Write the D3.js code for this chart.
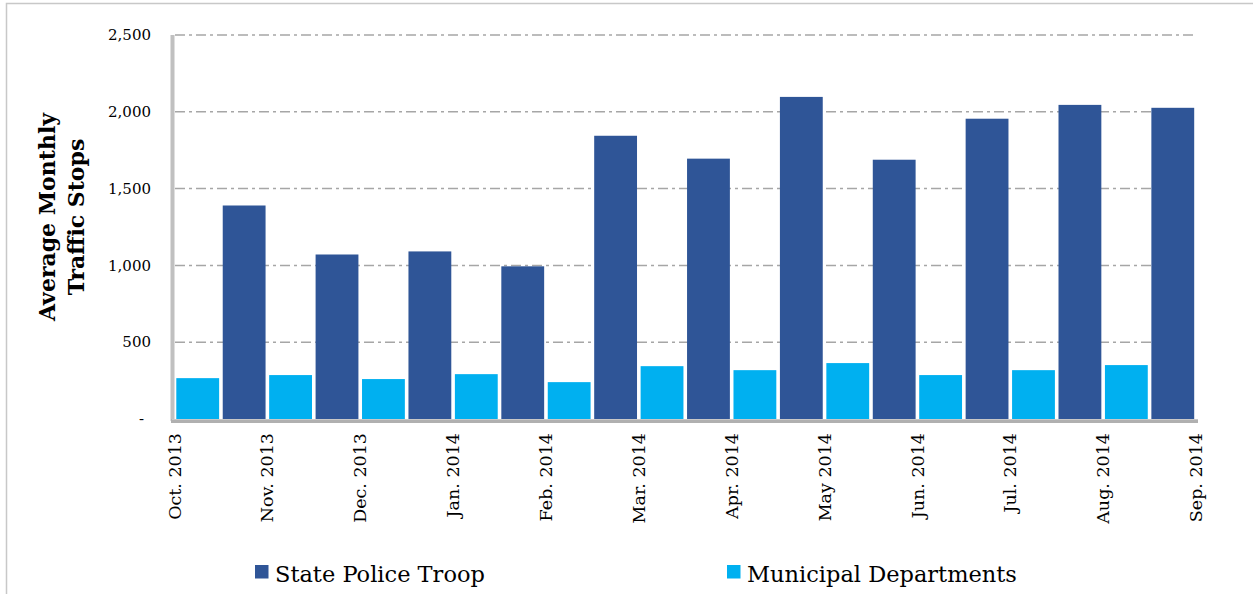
<!DOCTYPE html>
<html><head><meta charset="utf-8">
<script src="https://cdn.jsdelivr.net/npm/d3@7"></script>
<style>html,body{margin:0;padding:0;background:#fff;}svg{display:block;}</style>
</head><body>
<svg id="c" width="1253" height="594"></svg>
<script>
const months = ["Oct. 2013","Nov. 2013","Dec. 2013","Jan. 2014","Feb. 2014","Mar. 2014","Apr. 2014","May 2014","Jun. 2014","Jul. 2014","Aug. 2014","Sep. 2014"];
const statePolice = [1390, 1071, 1091, 994, 1844, 1695, 2097, 1688, 1955, 2045, 2026];
const municipal = [266, 286, 260, 292, 240, 344, 318, 364, 286, 318, 351];
const yTicks = [0, 500, 1000, 1500, 2000, 2500];
const seriesNames = ["State Police Troop", "Municipal Departments"];
const colors = ["#2F5597", "#00B0F0"];

const svg = d3.select("#c");
const serif = "'DejaVu Serif', serif";

// outer frame
svg.append("rect").attr("x",6.5).attr("y",3.5).attr("width",1300).attr("height",700)
  .attr("fill","none").attr("stroke","#c8c8c8").attr("stroke-width",1.5);

const x = d3.scaleLinear().domain([0, months.length-1]).range([174.5, 1196]);
const y = d3.scaleLinear().domain([0, 2500]).range([419, 35]);

// gridlines
svg.append("g").selectAll("line").data(yTicks.filter(d=>d>0)).join("line")
  .attr("x1",175).attr("x2",1196).attr("y1",d=>y(d)).attr("y2",d=>y(d))
  .attr("stroke","#a6a6a6").attr("stroke-width",1.5).attr("stroke-dasharray","10,4,3,4");

// bars
const pad = 1.8;
svg.append("g").selectAll("rect").data(municipal).join("rect")
  .attr("x",(d,i)=>x(i)+pad).attr("width",(d,i)=>x(i+0.5)-x(i)-2*pad)
  .attr("y",d=>y(d)).attr("height",d=>y(0)-y(d)).attr("fill",colors[1]);
svg.append("g").selectAll("rect").data(statePolice).join("rect")
  .attr("x",(d,i)=>x(i+0.5)+pad).attr("width",(d,i)=>x(i+1)-x(i+0.5)-2*pad)
  .attr("y",d=>y(d)).attr("height",d=>y(0)-y(d)).attr("fill",colors[0]);

// axes lines
svg.append("line").attr("x1",172.5).attr("x2",172.5).attr("y1",35).attr("y2",421)
  .attr("stroke","#c0c0c0").attr("stroke-width",4);
svg.append("line").attr("x1",171).attr("x2",1198).attr("y1",421).attr("y2",421)
  .attr("stroke","#b0b0b0").attr("stroke-width",4);
svg.append("line").attr("x1",172).attr("x2",1198).attr("y1",419.5).attr("y2",419.5)
  .attr("stroke","#c8c8c8").attr("stroke-width",1);

// y tick labels
const fmt = d3.format(",");
svg.append("g").selectAll("text").data(yTicks).join("text")
  .attr("x",d=>d===0?144:151).attr("y",d=>y(d)).attr("dy","0.35em")
  .attr("text-anchor","end").attr("font-family",serif).attr("font-size",15).attr("fill","#000")
  .text(d=>d===0?"-":fmt(d));

// x tick labels
svg.append("g").selectAll("text").data(months).join("text")
  .attr("transform",(d,i)=>`translate(${x(i)},433) rotate(-90)`)
  .attr("dy","0.35em").attr("text-anchor","end")
  .attr("font-family",serif).attr("font-size",17.5).attr("fill","#000")
  .text(d=>d);

// y title
const yt = svg.append("text").attr("transform","translate(47,217) rotate(-90)")
  .attr("text-anchor","middle").attr("font-family",serif).attr("font-weight","bold")
  .attr("font-size",22).attr("fill","#000");
yt.append("tspan").attr("x",0).attr("dy","0.35em").text("Average Monthly");
yt.append("tspan").attr("x",0).attr("dy",29).text("Traffic Stops");

// legend
const legX = [255, 727];
const lg = svg.append("g").selectAll("g").data(seriesNames).join("g")
  .attr("transform",(d,i)=>`translate(${legX[i]},565)`);
lg.append("rect").attr("width",13.5).attr("height",13.5).attr("fill",(d,i)=>colors[i]);
lg.append("text").attr("x",20).attr("y",17).attr("font-family",serif).attr("font-size",22.5)
  .attr("fill","#000").text(d=>d);
</script>
</body></html>
